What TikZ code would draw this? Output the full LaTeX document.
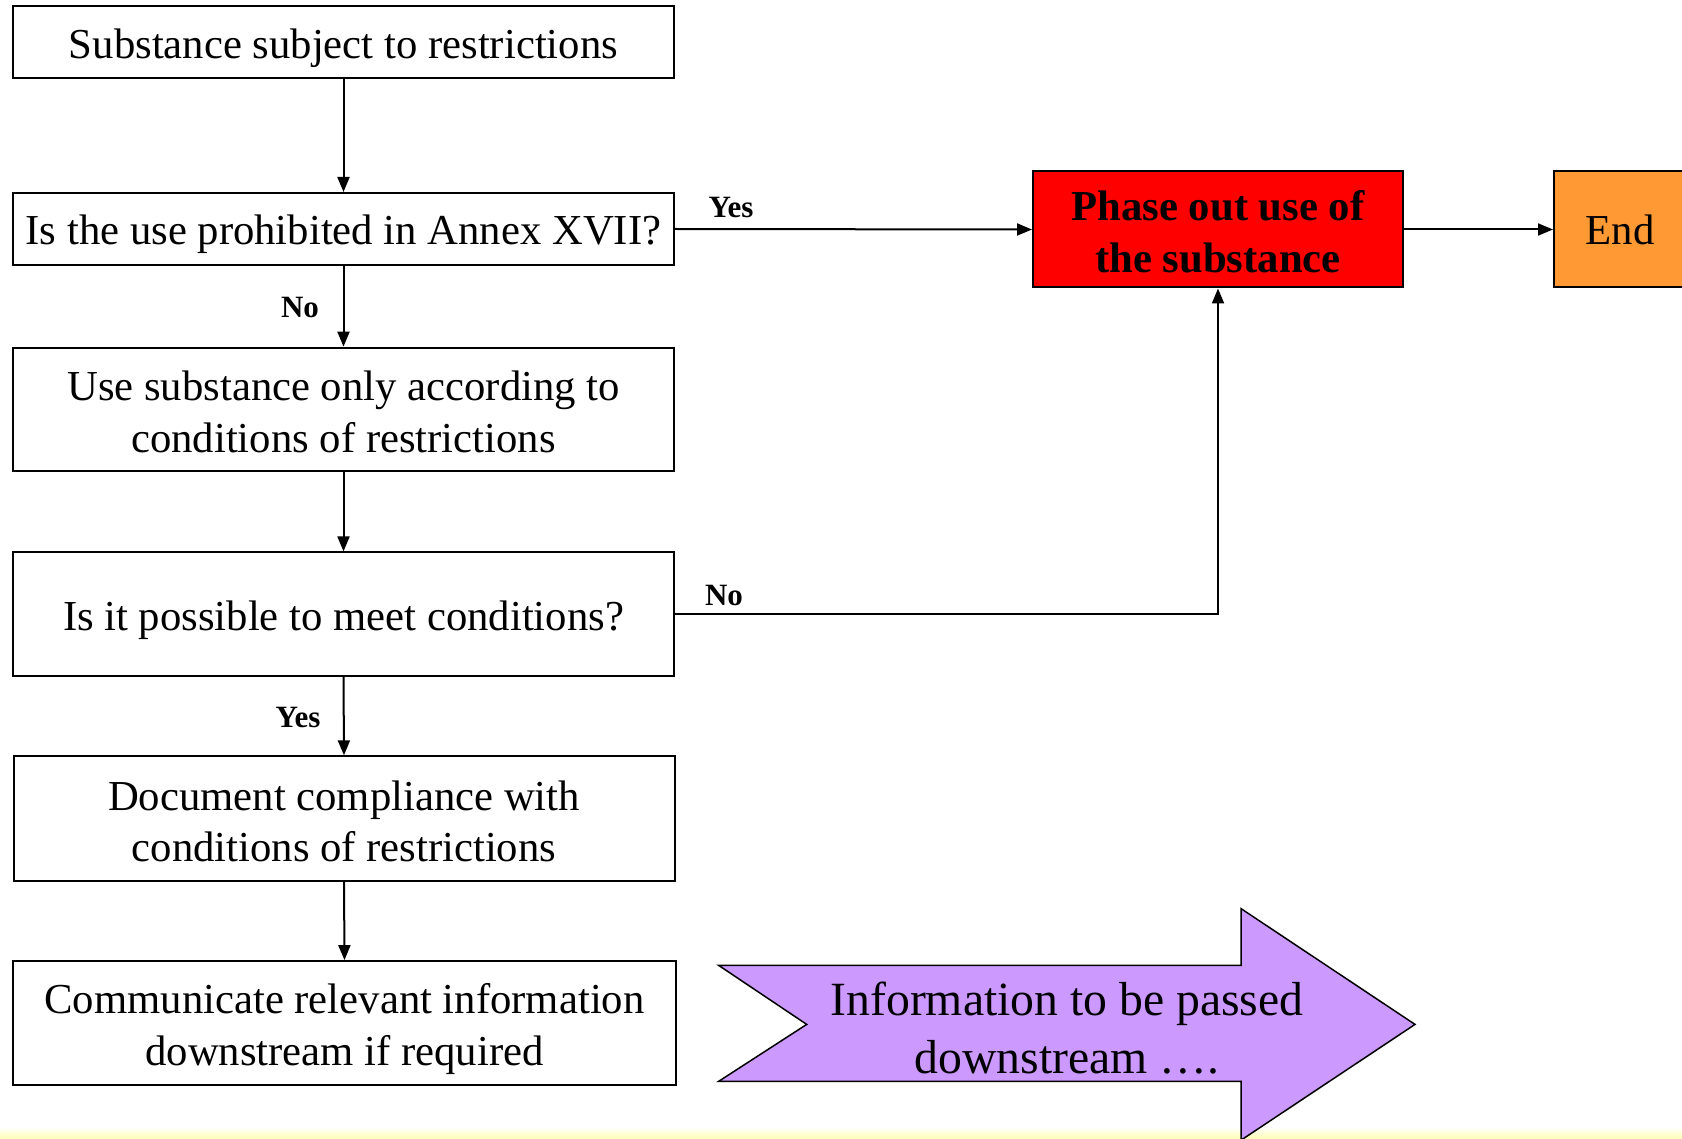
\documentclass[tikz,border=0pt]{standalone}
\usepackage{fontspec}
\setmainfont{Liberation Serif}
\usetikzlibrary{arrows.meta}
\definecolor{phasered}{HTML}{FF0000}
\definecolor{endorange}{HTML}{FF9933}
\definecolor{infopurple}{HTML}{CC99FF}
\begin{document}
\begin{tikzpicture}[x=1pt,y=-1pt,
  box/.style={draw=black, line width=2pt, fill=white, inner sep=0pt, align=center,
    font=\fontsize{42.7}{51.5}\selectfont},
  one/.style={text height=32pt, text depth=0pt},
  two/.style={text height=#1, text depth=0pt},
  conn/.style={line width=2pt, -{Triangle[length=15pt,width=12pt]}},
  lbl/.style={inner sep=0pt, font=\fontsize{31}{37}\selectfont\bfseries}]
\clip (0,0) rectangle (1682,1139);
\fill[white] (0,0) rectangle (1682,1139);
\shade[top color=white, bottom color=yellow!30] (0,1127) rectangle (1682,1139);

\node[box, one, minimum width=661pt, minimum height=72pt] (b1) at (343.5,42.4) {Substance subject to restrictions};
\node[box, one, minimum width=661pt, minimum height=72pt] (b2) at (343.5,229) {Is the use prohibited in Annex XVII?};
\node[box, two=86.4pt, minimum width=661pt, minimum height=123.4pt] (b3) at (343.5,409.3) {Use substance only according to\\conditions of restrictions};
\node[box, one, minimum width=661pt, minimum height=123.4pt] (b4) at (343.5,614.1) {Is it possible to meet conditions?};
\node[box, two=86.4pt, minimum width=661pt, minimum height=124.4pt] (b5) at (344,818.5) {Document compliance with\\conditions of restrictions};
\node[box, two=84.6pt, minimum width=663pt, minimum height=123.4pt] (b6) at (344.5,1022.8) {Communicate relevant information\\downstream if required};

\node[box, two=85.3pt, fill=phasered, minimum width=370pt, minimum height=116pt,
  font=\fontsize{42.7}{51.5}\selectfont\bfseries] (red) at (1218,229.5) {Phase out use of\\the substance};
\node[box, fill=endorange, minimum width=132pt, minimum height=116pt] (end) at (1620,229.5) {End};

\draw[conn] (b1.south) -- (b2.north);
\draw[conn] (b2.south) -- (b3.north);
\draw[conn] (b3.south) -- (b4.north);
\draw[conn] (b4.south) -- (b5.north);
\draw[conn] (b5.south) -- (b6.north);
\draw[conn] (b2.east) -- (red.west);
\draw[conn] (b4.east) -| (red.south);
\draw[conn] (red.east) -- (end.west);

\node[lbl] (l1) at (731,208) {Yes};
\node[lbl] (l2) at (300,308) {No};
\node[lbl] (l3) at (724,596) {No};
\node[lbl] (l4) at (298,717) {Yes};

\draw[line width=1.5pt, fill=infopurple, line join=miter]
  (718.7,965.4) -- (1241,965.4) -- (1241,908.6) -- (1415,1024.4) -- (1241,1140.2)
  -- (1241,1081.3) -- (718.7,1081.3) -- (806.7,1024.4) -- cycle;
\node[inner sep=0pt, align=center, font=\fontsize{47.7}{58}\selectfont] (info) at (1067,1027.6)
  {Information to be passed\\downstream ….};
\end{tikzpicture}
\end{document}
